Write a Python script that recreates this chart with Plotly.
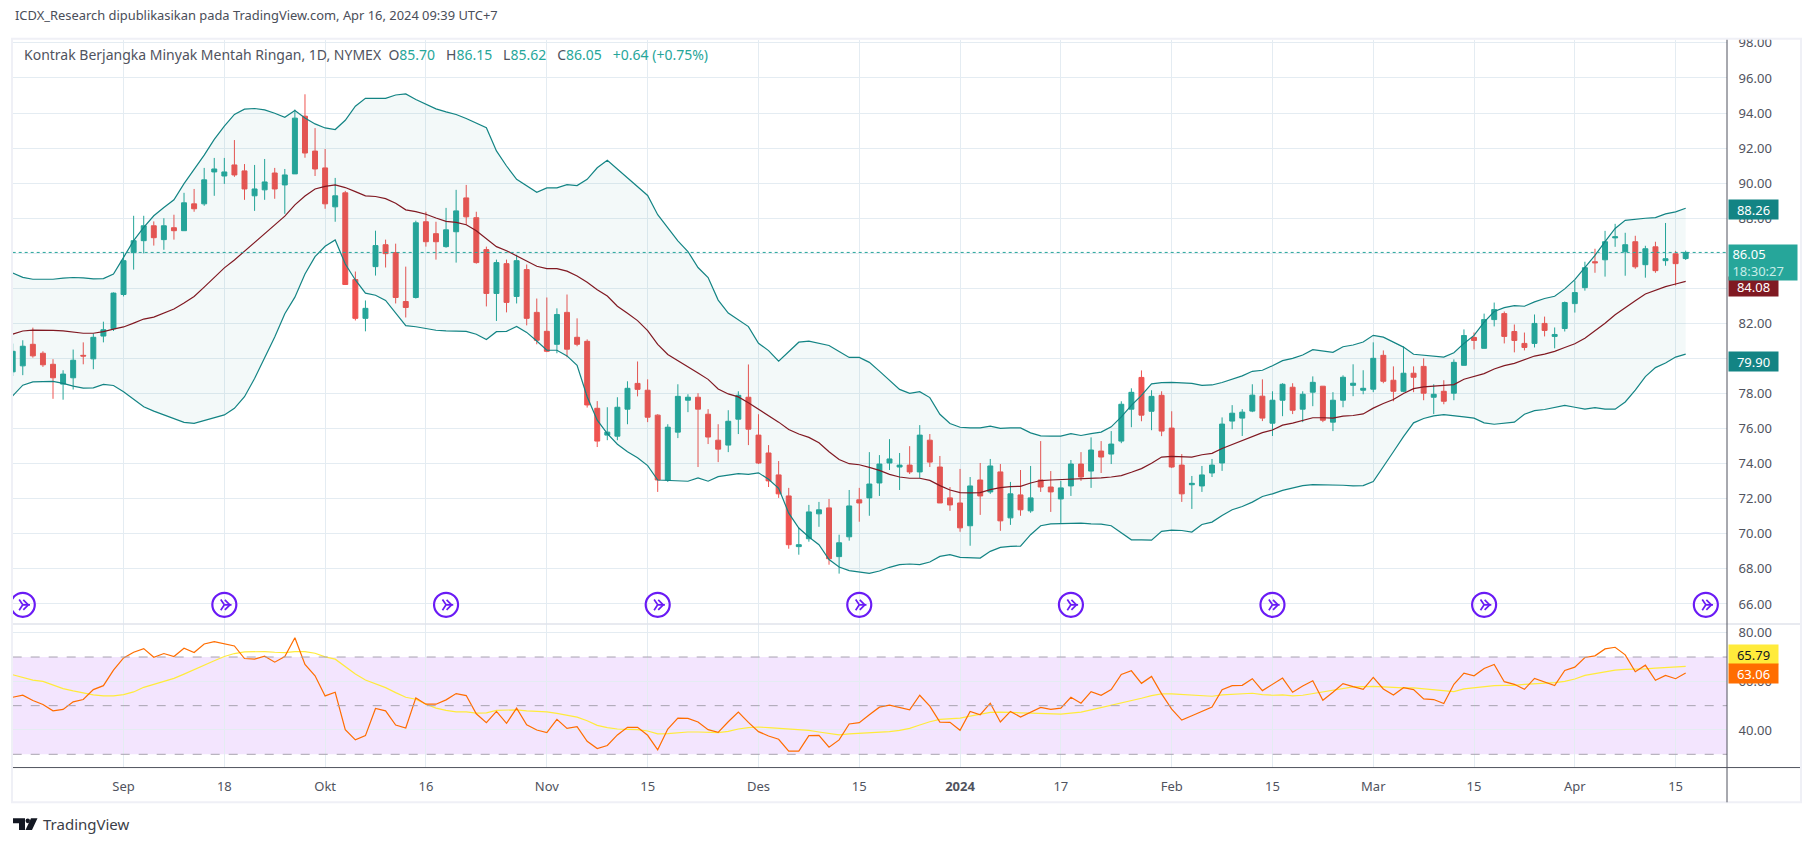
import plotly.graph_objects as go

# bar index positions of the time axis labels
tick_pos = [11, 21, 31, 41, 53, 63, 74, 84, 94, 104, 115, 125, 135, 145, 155, 165]
tick_labels = ['Sep', '18', 'Okt', '16', 'Nov', '15', 'Des', '15', '<b>2024</b>', '17',
               'Feb', '15', 'Mar', '15', 'Apr', '15']
price_ticks = [66, 68, 70, 72, 74, 76, 78, 80, 82, 84, 86, 88, 90, 92, 94, 96, 98]
rsi_ticks = [40, 60, 80]
idea_bars = [1, 21, 43, 64, 84, 105, 125, 146, 168]
idea_level = [65.95] * 9

opens = [
    79.24, 79.58, 80.81, 80.30, 79.67, 78.54, 78.90, 80.18, 79.98, 81.28,
    81.70, 83.65, 86.04, 86.72, 87.57, 86.78, 87.46, 87.29, 88.82, 88.82,
    90.64, 90.41, 91.04, 90.70, 89.28, 89.62, 90.58, 89.90, 90.53, 93.82,
    91.83, 90.87, 88.65, 89.45, 84.50, 82.29, 85.24, 86.49, 86.04, 83.25,
    83.48, 87.80, 87.12, 86.38, 87.23, 89.16, 88.03, 86.21, 83.71, 85.41,
    83.54, 85.07, 82.63, 81.55, 80.81, 82.63, 81.21, 80.98, 77.16, 75.63,
    75.57, 77.11, 78.58, 78.19, 76.77, 73.07, 75.80, 77.62, 77.79, 76.82,
    75.34, 75.06, 76.54, 77.79, 75.63, 74.61, 73.36, 72.16, 69.27, 69.72,
    71.14, 71.48, 68.70, 69.83, 71.94, 72.05, 72.90, 74.04, 73.81, 73.92,
    73.53, 75.34, 73.81, 72.05, 71.76, 70.46, 73.07, 72.39, 73.53, 70.91,
    72.22, 71.31, 73.07, 72.67, 71.99, 72.73, 73.98, 73.58, 74.72, 74.55,
    75.29, 77.11, 78.92, 76.99, 77.90, 76.03, 73.92, 72.80, 72.73, 73.47,
    74.04, 76.43, 76.60, 77.00, 77.85, 76.31, 77.62, 78.36, 77.11, 78.08,
    78.42, 76.37, 77.62, 78.47, 78.19, 78.25, 80.18, 78.76, 78.13, 79.16,
    79.55, 77.79, 78.13, 78.02, 79.61, 81.20, 80.58, 82.22, 82.56, 81.54,
    80.86, 80.86, 82.00, 81.26, 81.71, 83.13, 84.04, 85.52, 85.63, 86.88,
    86.09, 86.66, 85.35, 86.37, 85.58, 85.97, 85.70,
]
highs = [
    80.85, 81.04, 81.76, 80.41, 79.96, 79.33, 80.51, 80.92, 81.42, 82.10,
    83.77, 86.06, 88.14, 88.14, 87.82, 88.00, 88.20, 89.45, 89.67, 90.87,
    91.44, 91.44, 92.46, 91.09, 91.04, 91.38, 90.87, 90.81, 94.20, 95.07,
    93.14, 91.95, 90.30, 89.56, 84.96, 83.31, 87.29, 86.78, 86.55, 85.24,
    87.86, 88.37, 87.80, 88.59, 89.62, 89.90, 88.37, 86.38, 85.64, 85.64,
    85.92, 85.36, 83.42, 83.48, 82.86, 83.65, 82.29, 81.09, 77.57, 77.22,
    77.79, 78.70, 79.83, 78.81, 76.82, 76.25, 78.53, 77.96, 78.02, 77.11,
    76.25, 77.05, 78.13, 79.66, 76.82, 75.06, 74.15, 72.62, 70.34, 71.65,
    71.82, 71.99, 69.95, 72.50, 72.62, 74.66, 74.49, 75.40, 74.61, 75.00,
    76.20, 75.69, 74.44, 72.67, 73.70, 73.24, 74.04, 74.27, 73.98, 72.96,
    73.64, 73.87, 75.29, 73.58, 73.02, 74.21, 74.66, 75.50, 75.29, 75.86,
    77.56, 78.30, 79.32, 78.19, 78.13, 76.99, 74.55, 73.30, 73.87, 74.27,
    76.64, 77.34, 77.11, 78.53, 78.81, 78.13, 78.59, 78.59, 78.13, 78.98,
    78.42, 78.08, 79.04, 79.67, 79.33, 80.92, 80.46, 79.55, 80.69, 79.55,
    80.01, 78.53, 78.76, 79.95, 81.66, 81.48, 82.56, 83.19, 82.68, 81.94,
    81.48, 82.51, 82.39, 81.77, 83.25, 84.44, 85.52, 86.26, 87.28, 87.68,
    87.17, 87.00, 86.43, 86.66, 87.73, 86.14, 86.15,
]
lows = [
    79.00, 79.05, 80.05, 79.52, 77.70, 77.65, 78.23, 79.67, 79.39, 80.92,
    81.57, 83.54, 85.07, 86.00, 86.44, 86.20, 86.78, 87.29, 88.37, 88.71,
    89.28, 89.96, 90.36, 89.05, 88.42, 89.05, 89.11, 88.25, 90.53, 91.45,
    90.41, 88.54, 87.80, 84.22, 82.17, 81.55, 84.73, 85.19, 83.14, 82.34,
    83.42, 86.38, 85.64, 86.32, 85.47, 87.63, 85.41, 82.97, 82.14, 82.63,
    83.14, 81.89, 80.81, 80.36, 80.30, 80.07, 80.70, 77.20, 74.95, 75.34,
    75.34, 76.25, 77.84, 76.37, 72.39, 72.96, 75.46, 76.94, 73.81, 75.12,
    74.09, 74.66, 75.69, 75.06, 73.98, 72.67, 72.05, 69.15, 68.81, 69.55,
    70.40, 68.24, 67.73, 69.61, 70.69, 71.03, 72.16, 73.64, 72.50, 73.41,
    73.19, 73.81, 71.76, 71.31, 70.12, 69.32, 71.08, 72.28, 70.17, 70.51,
    71.03, 71.20, 72.39, 71.25, 70.57, 72.16, 73.02, 72.62, 73.47, 73.98,
    75.17, 76.08, 76.42, 75.91, 75.57, 73.75, 71.82, 71.42, 72.39, 73.24,
    73.59, 75.97, 75.58, 76.94, 76.43, 75.58, 76.71, 76.83, 76.37, 77.28,
    76.37, 75.86, 77.22, 77.85, 77.96, 78.08, 78.59, 77.56, 78.08, 78.08,
    77.62, 76.83, 77.39, 77.62, 79.61, 80.52, 80.58, 81.83, 80.86, 80.35,
    80.46, 80.63, 81.26, 80.58, 81.54, 82.62, 83.87, 84.89, 84.67, 86.37,
    84.72, 85.12, 84.61, 84.89, 85.29, 84.16, 85.62,
]
closes = [
    80.41, 80.70, 80.15, 79.64, 78.90, 79.11, 79.90, 80.14, 81.21, 81.64,
    83.73, 85.58, 86.72, 87.57, 86.89, 87.57, 87.29, 88.88, 88.54, 90.19,
    90.81, 90.64, 90.47, 89.67, 89.67, 90.07, 89.67, 90.47, 93.71, 91.72,
    90.81, 88.82, 89.28, 84.22, 82.29, 82.86, 86.44, 85.98, 83.48, 82.91,
    87.74, 86.66, 86.66, 87.34, 88.42, 88.08, 85.47, 83.71, 85.47, 83.20,
    85.58, 82.29, 81.04, 80.41, 82.51, 80.53, 80.81, 77.35, 75.29, 75.80,
    77.22, 78.30, 78.24, 76.65, 73.07, 76.08, 77.84, 77.79, 77.11, 75.52,
    74.83, 76.42, 77.90, 75.97, 74.04, 73.02, 72.28, 69.38, 69.38, 71.25,
    71.37, 68.58, 69.49, 71.59, 71.76, 72.84, 73.98, 74.27, 73.92, 73.53,
    75.63, 74.09, 71.76, 71.65, 70.34, 72.73, 72.16, 73.87, 70.74, 72.28,
    71.37, 72.05, 72.67, 72.39, 72.62, 73.98, 73.24, 74.78, 74.38, 75.12,
    77.39, 78.07, 76.77, 77.84, 75.86, 73.81, 72.28, 72.88, 73.36, 73.92,
    76.26, 76.88, 76.94, 77.91, 76.60, 77.62, 78.53, 77.05, 77.96, 78.64,
    76.48, 77.62, 78.93, 78.59, 78.30, 80.01, 78.70, 78.13, 79.16, 78.93,
    78.02, 77.96, 77.56, 79.78, 81.31, 81.03, 82.22, 82.79, 81.26, 81.03,
    80.63, 82.00, 81.60, 81.37, 83.19, 83.76, 85.18, 85.46, 86.66, 86.94,
    86.49, 85.23, 86.26, 85.01, 85.69, 85.41, 86.05,
]

bb_upper = [
    84.88, 84.63, 84.52, 84.52, 84.52, 84.58, 84.62, 84.60, 84.54, 84.56,
    84.82, 85.77, 86.72, 87.48, 88.14, 88.61, 89.05, 89.97, 90.79, 91.60,
    92.50, 93.26, 93.92, 94.22, 94.26, 94.18, 93.99, 93.76, 94.14, 93.72,
    93.38, 93.15, 93.06, 93.59, 94.39, 94.84, 94.84, 94.84, 95.03, 95.09,
    94.77, 94.49, 94.24, 94.07, 93.92, 93.69, 93.44, 93.16, 91.84, 90.98,
    90.22, 89.84, 89.48, 89.73, 89.73, 89.92, 89.86, 90.22, 90.88, 91.30,
    90.80, 90.31, 89.80, 89.30, 88.20, 87.47, 86.71, 86.10, 85.19, 84.62,
    83.33, 82.59, 82.21, 81.82, 80.87, 80.45, 79.85, 80.40, 80.93, 80.99,
    80.87, 80.74, 80.40, 80.06, 80.06, 79.78, 79.28, 78.75, 78.24, 78.01,
    78.11, 77.77, 76.82, 76.29, 76.08, 76.04, 76.04, 76.14, 76.02, 76.04,
    76.04, 75.76, 75.59, 75.57, 75.57, 75.71, 75.61, 75.72, 75.80, 76.10,
    76.67, 77.33, 77.90, 78.55, 78.62, 78.64, 78.62, 78.58, 78.47, 78.49,
    78.63, 78.82, 79.01, 79.27, 79.33, 79.59, 79.88, 80.01, 80.20, 80.50,
    80.44, 80.35, 80.67, 80.77, 80.94, 81.32, 81.22, 80.95, 80.65, 80.24,
    80.18, 80.14, 80.08, 80.33, 80.86, 81.32, 82.07, 82.68, 82.90, 83.02,
    82.98, 83.23, 83.42, 83.55, 83.97, 84.50, 85.16, 85.88, 86.66, 87.42,
    87.88, 87.96, 88.00, 88.04, 88.25, 88.36, 88.57,
]
bb_mid = [
    81.39, 81.57, 81.62, 81.62, 81.60, 81.57, 81.51, 81.44, 81.44, 81.53,
    81.68, 81.80, 82.02, 82.25, 82.36, 82.59, 82.82, 83.16, 83.54, 84.07,
    84.64, 85.17, 85.62, 86.11, 86.62, 87.14, 87.63, 88.12, 88.76, 89.27,
    89.67, 89.82, 89.90, 89.75, 89.52, 89.28, 89.24, 89.12, 88.86, 88.48,
    88.38, 88.23, 88.01, 87.82, 87.76, 87.63, 87.29, 86.81, 86.38, 86.15,
    85.86, 85.58, 85.26, 85.13, 85.13, 84.98, 84.71, 84.35, 83.92, 83.56,
    82.98, 82.58, 82.16, 81.59, 80.80, 80.23, 79.89, 79.55, 79.17, 78.81,
    78.26, 77.98, 77.81, 77.48, 77.11, 76.76, 76.37, 75.95, 75.69, 75.50,
    75.19, 74.68, 74.24, 74.00, 73.94, 73.79, 73.62, 73.39, 73.24, 73.17,
    73.17, 73.05, 72.75, 72.50, 72.35, 72.33, 72.35, 72.52, 72.64, 72.69,
    72.71, 72.90, 73.04, 73.07, 73.09, 73.13, 73.15, 73.17, 73.19, 73.24,
    73.32, 73.51, 73.72, 74.02, 74.38, 74.42, 74.38, 74.38, 74.51, 74.59,
    74.87, 75.10, 75.31, 75.58, 75.77, 75.92, 76.20, 76.31, 76.45, 76.62,
    76.62, 76.60, 76.71, 76.75, 76.84, 77.17, 77.43, 77.66, 78.00, 78.28,
    78.38, 78.42, 78.45, 78.51, 78.82, 78.97, 79.14, 79.40, 79.59, 79.72,
    79.93, 80.14, 80.25, 80.41, 80.63, 80.84, 81.16, 81.56, 82.01, 82.49,
    82.92, 83.30, 83.68, 83.91, 84.10, 84.25, 84.40,
]
bb_lower = [
    77.87, 78.48, 78.67, 78.67, 78.69, 78.58, 78.42, 78.31, 78.33, 78.52,
    78.46, 78.10, 77.68, 77.25, 77.00, 76.78, 76.59, 76.36, 76.30, 76.45,
    76.59, 76.78, 77.16, 77.82, 78.86, 80.00, 81.23, 82.55, 83.50, 84.82,
    85.81, 86.40, 86.76, 85.39, 84.48, 83.73, 83.61, 83.31, 82.59, 81.87,
    81.81, 81.72, 81.61, 81.57, 81.57, 81.55, 81.38, 81.08, 81.53, 81.55,
    81.83, 81.49, 81.00, 80.47, 80.47, 80.15, 79.61, 77.82, 76.48, 75.72,
    75.11, 74.68, 74.34, 73.89, 73.07, 73.06, 73.04, 73.00, 73.19, 73.00,
    73.26, 73.33, 73.43, 73.39, 73.48, 73.11, 72.60, 71.18, 70.33, 69.82,
    69.38, 68.53, 68.11, 67.90, 67.81, 67.75, 67.88, 68.09, 68.24, 68.28,
    68.24, 68.39, 68.71, 68.81, 68.66, 68.62, 68.62, 69.00, 69.23, 69.28,
    69.30, 69.95, 70.46, 70.57, 70.59, 70.61, 70.61, 70.57, 70.55, 70.46,
    70.04, 69.66, 69.66, 69.64, 70.14, 70.21, 70.19, 70.10, 70.53, 70.67,
    71.05, 71.37, 71.56, 71.81, 72.13, 72.28, 72.48, 72.60, 72.75, 72.81,
    72.81, 72.81, 72.77, 72.73, 72.75, 72.98, 73.80, 74.68, 75.54, 76.33,
    76.58, 76.73, 76.80, 76.75, 76.67, 76.60, 76.33, 76.25, 76.31, 76.37,
    76.82, 77.03, 77.09, 77.22, 77.33, 77.22, 77.11, 77.20, 77.11, 77.11,
    77.52, 78.19, 78.97, 79.48, 79.74, 80.08, 80.25,
]

rsi = [
    53.47, 54.29, 52.11, 50.48, 47.89, 48.44, 51.56, 52.52, 56.60, 58.23,
    64.63, 69.66, 71.97, 73.47, 69.93, 71.43, 70.20, 73.61, 71.84, 75.37,
    76.33, 75.37, 74.56, 69.39, 69.12, 70.34, 67.89, 70.20, 77.96, 66.94,
    62.31, 54.01, 55.51, 40.14, 35.92, 37.69, 48.84, 47.89, 42.04, 40.82,
    53.20, 50.61, 50.61, 52.38, 54.97, 54.15, 46.67, 42.99, 47.62, 42.72,
    48.98, 42.18, 40.00, 38.91, 44.35, 40.68, 41.36, 35.37, 32.38, 33.61,
    37.96, 41.09, 41.09, 37.82, 31.84, 40.41, 44.90, 44.76, 43.27, 40.14,
    39.05, 43.40, 47.35, 43.13, 39.32, 37.55, 36.19, 31.29, 31.29, 37.69,
    37.82, 32.93, 35.92, 42.45, 42.99, 46.26, 49.39, 50.20, 49.25, 48.30,
    54.29, 49.80, 43.27, 43.13, 39.86, 47.62, 46.26, 51.02, 43.27, 47.62,
    45.31, 47.21, 49.25, 48.44, 48.98, 53.47, 51.02, 55.78, 54.29, 56.60,
    62.86, 64.35, 59.18, 62.04, 54.83, 48.57, 44.08, 45.85, 47.62, 49.39,
    56.60, 58.23, 58.37, 61.09, 56.19, 58.91, 61.36, 55.51, 58.10, 60.27,
    52.24, 55.51, 59.05, 57.82, 56.73, 61.63, 56.87, 54.42, 57.41, 56.60,
    52.79, 52.52, 50.88, 58.78, 63.40, 62.31, 65.31, 66.94, 59.86, 58.78,
    56.73, 61.22, 59.73, 58.23, 64.49, 65.85, 69.80, 70.48, 73.33, 74.01,
    70.88, 63.95, 66.67, 60.41, 62.45, 61.09, 63.40,
]
rsi_ma = [
    62.72, 61.63, 60.54, 60.00, 58.37, 57.01, 56.05, 55.10, 54.42, 54.01,
    54.01, 54.56, 55.65, 57.55, 58.78, 60.00, 61.22, 62.99, 64.90, 66.53,
    68.44, 70.20, 71.43, 72.11, 72.24, 72.24, 71.97, 71.84, 72.24, 72.24,
    71.56, 70.07, 69.12, 66.12, 62.99, 60.54, 59.05, 57.41, 55.37, 53.47,
    52.65, 50.61, 48.98, 48.03, 47.48, 47.48, 46.94, 47.07, 48.03, 48.30,
    48.30, 47.89, 47.76, 47.48, 46.80, 46.12, 45.31, 43.81, 41.90, 40.95,
    40.41, 40.27, 40.14, 39.59, 38.37, 38.50, 38.91, 39.18, 39.18, 39.05,
    38.91, 39.46, 40.41, 40.95, 41.22, 40.95, 40.68, 40.14, 40.14, 39.86,
    39.18, 38.50, 37.96, 38.37, 38.64, 38.78, 38.91, 39.32, 39.86, 40.68,
    42.04, 43.40, 44.35, 44.76, 44.90, 45.71, 46.53, 47.21, 47.35, 47.35,
    47.07, 46.94, 46.80, 46.67, 46.53, 46.94, 47.35, 48.30, 49.25, 49.93,
    51.02, 52.11, 53.06, 54.15, 54.83, 54.83, 54.56, 54.29, 54.15, 53.88,
    54.42, 54.56, 54.83, 55.10, 54.56, 54.29, 54.42, 54.01, 54.29, 54.97,
    55.65, 56.19, 57.01, 57.69, 57.82, 57.96, 57.69, 57.41, 57.28, 57.28,
    56.87, 56.60, 56.05, 55.78, 56.87, 57.41, 57.96, 58.23, 58.37, 58.37,
    58.78, 58.91, 59.05, 59.46, 60.00, 60.95, 62.45, 63.13, 63.81, 64.63,
    64.90, 64.90, 65.17, 65.44, 65.71, 65.71, 66.12,
]

bars = list(range(len(closes)))

W, H = 1815, 846
def px(x):
    return x / W
def py(y):
    return 1 - y / H

GRID = '#e4ecf2'
AXIS = '#50535e'
TEXT = '#50535e'
FONT = 'Noto Sans'
TEAL = '#138484'
GREEN = '#26a69a'
RED = '#ef5350'
PURPLE = '#6a1bf5'

fig = go.Figure()

fig.add_trace(go.Scatter(x=bars, y=bb_upper, mode='lines', line=dict(color=TEAL, width=1.2),
                         xaxis='x', yaxis='y', hoverinfo='skip'))
fig.add_trace(go.Scatter(x=bars, y=bb_lower, mode='lines', line=dict(color=TEAL, width=1.2),
                         fill='tonexty', fillcolor='rgba(19,132,132,0.05)',
                         xaxis='x', yaxis='y', hoverinfo='skip'))
fig.add_trace(go.Scatter(x=bars, y=bb_mid, mode='lines', line=dict(color='#801922', width=1.2),
                         xaxis='x', yaxis='y', hoverinfo='skip'))
fig.add_trace(go.Candlestick(x=bars, open=opens, high=highs, low=lows, close=closes,
                             increasing=dict(line=dict(color=GREEN, width=1), fillcolor=GREEN),
                             decreasing=dict(line=dict(color=RED, width=1), fillcolor=RED),
                             whiskerwidth=0, xaxis='x', yaxis='y'))
# idea icons: ring, forked tail, then the two strokes of the arrow head
fig.add_trace(go.Scatter(x=idea_bars, y=idea_level, mode='markers',
                         marker=dict(symbol='circle-open', size=24, color=PURPLE,
                                     line=dict(width=2.2, color=PURPLE)),
                         xaxis='x', yaxis='y', hoverinfo='skip'))
fig.add_trace(go.Scatter(x=idea_bars, y=idea_level, mode='markers',
                         marker=dict(symbol='y-right', size=9, color=PURPLE,
                                     line=dict(width=1.7, color=PURPLE)),
                         xaxis='x', yaxis='y', hoverinfo='skip'))
fig.add_trace(go.Scatter(x=[b + 0.3 for b in idea_bars], y=[v + 0.14 for v in idea_level], mode='markers',
                         marker=dict(symbol='line-nw', size=5, color=PURPLE,
                                     line=dict(width=1.7, color=PURPLE)),
                         xaxis='x', yaxis='y', hoverinfo='skip'))
fig.add_trace(go.Scatter(x=[b + 0.3 for b in idea_bars], y=[v - 0.14 for v in idea_level], mode='markers',
                         marker=dict(symbol='line-ne', size=5, color=PURPLE,
                                     line=dict(width=1.7, color=PURPLE)),
                         xaxis='x', yaxis='y', hoverinfo='skip'))

fig.add_trace(go.Scatter(x=bars, y=rsi_ma, mode='lines', line=dict(color='#ffeb3b', width=1.2),
                         xaxis='x2', yaxis='y2', hoverinfo='skip'))
fig.add_trace(go.Scatter(x=bars, y=rsi, mode='lines', line=dict(color='#ff6d00', width=1.2),
                         xaxis='x2', yaxis='y2', hoverinfo='skip'))

x_range = [0, 170.1]
x_common = dict(range=x_range, tickmode='array', tickvals=tick_pos, ticktext=tick_labels,
                showgrid=True, gridcolor=GRID, gridwidth=1, zeroline=False)

layout_shapes = [
    # dotted last price line
    dict(type='line', xref='x', yref='y', x0=x_range[0], x1=x_range[1], y0=closes[-1], y1=closes[-1],
         line=dict(color=GREEN, width=1, dash='dot'), layer='above'),
    # rsi band
    dict(type='rect', xref='x2', yref='y2', x0=x_range[0], x1=x_range[1], y0=30, y1=70,
         fillcolor='rgba(156,39,250,0.12)', line=dict(width=0), layer='below'),
]
for lvl in [70, 50, 30]:
    layout_shapes.append(dict(type='line', xref='x2', yref='y2', x0=x_range[0], x1=x_range[1],
                              y0=lvl, y1=lvl, line=dict(color='#a8a3b0', width=1, dash='dash'),
                              layer='above'))
# frame, pane separator, axis lines
frame = '#eff0f6'
layout_shapes += [
    dict(type='rect', xref='paper', yref='paper', x0=px(12), x1=px(1801), y0=py(802), y1=py(33),
         line=dict(color=frame, width=2), layer='above'),
    dict(type='line', xref='paper', yref='paper', x0=px(13), x1=px(1800), y0=py(622.5), y1=py(622.5),
         line=dict(color='#e0e3eb', width=1.5), layer='above'),
    dict(type='line', xref='paper', yref='paper', x0=px(13), x1=px(1800), y0=py(767), y1=py(767),
         line=dict(color=AXIS, width=1), layer='above'),
    dict(type='line', xref='paper', yref='paper', x0=px(1727), x1=px(1727), y0=py(802), y1=py(34),
         line=dict(color=AXIS, width=1), layer='above'),
    # TradingView logo
    dict(type='path', xref='paper', yref='paper', fillcolor='#131722', line=dict(width=0), layer='above',
         path=f'M {px(13)} {py(818)} L {px(25)} {py(818)} L {px(25)} {py(830)} L {px(19)} {py(830)} '
              f'L {px(19)} {py(823)} L {px(13)} {py(823)} Z'),
    dict(type='circle', xref='paper', yref='paper', fillcolor='#131722', line=dict(width=0), layer='above',
         x0=px(25.5), x1=px(30), y0=py(823), y1=py(818.3)),
    dict(type='path', xref='paper', yref='paper', fillcolor='#131722', line=dict(width=0), layer='above',
         path=f'M {px(31)} {py(818)} L {px(37.5)} {py(818)} L {px(32)} {py(830)} L {px(25.5)} {py(830)} Z'),
]


def axis_label(value, text, bg, fg, yref, width=49, height=19, align='center'):
    return dict(xref='paper', yref=yref, x=px(1727.5), y=value, xanchor='left', yanchor='middle',
                text=text, showarrow=False, bgcolor=bg, width=width, height=height, align=align,
                font=dict(family=FONT, size=13, color=fg), borderpad=0)


annotations = [
    dict(xref='paper', yref='paper', x=px(12.5), y=py(9.5), xanchor='left', yanchor='middle', showarrow=False,
         text='ICDX_Research dipublikasikan pada TradingView.com, Apr 16, 2024 09:39 UTC+7',
         font=dict(family=FONT, size=12.9, color='#4a4e59')),
    dict(xref='paper', yref='paper', x=px(22), y=py(48.7), xanchor='left', yanchor='middle', showarrow=False,
         text=f'Kontrak Berjangka Minyak Mentah Ringan, 1D, NYMEX&nbsp;&nbsp;'
              f'O<span style="color:{GREEN}">85.70</span>&nbsp;&nbsp;&nbsp;'
              f'H<span style="color:{GREEN}">86.15</span>&nbsp;&nbsp;&nbsp;'
              f'L<span style="color:{GREEN}">85.62</span>&nbsp;&nbsp;&nbsp;'
              f'C<span style="color:{GREEN}">86.05</span>&nbsp;&nbsp;&nbsp;'
              f'<span style="color:{GREEN}">+0.64 (+0.75%)</span>',
         font=dict(family=FONT, size=14, color=TEXT)),
    dict(xref='paper', yref='paper', x=px(41), y=py(824), xanchor='left', yanchor='middle', showarrow=False,
         text='TradingView', font=dict(family=FONT, size=15, color='#3b3e47')),
    axis_label(88.47, '88.26', '#138484', '#ffffff', 'y'),
    axis_label(84.08, '84.08', '#801922', '#ffffff', 'y'),
    axis_label(79.83, '79.90', '#138484', '#ffffff', 'y'),
    axis_label(85.5, '&nbsp;86.05<br>&nbsp;<span style="color:#c8ece8">18:30:27</span>', GREEN, '#ffffff', 'y',
               width=68, height=35, align='left'),
    axis_label(70.9, '65.79', '#ffeb3b', '#131722', 'y2'),
    axis_label(63.2, '63.06', '#ff6d00', '#ffffff', 'y2'),
]

fig.update_layout(
    width=W, height=H,
    margin=dict(l=0, r=0, t=0, b=0),
    paper_bgcolor='white', plot_bgcolor='white',
    showlegend=False,
    boxgap=0.3,
    font=dict(family=FONT, size=13, color=TEXT),
    xaxis=dict(domain=[px(12.7), px(1727)], anchor='y', showticklabels=False, ticks='',
               rangeslider=dict(visible=False), **x_common),
    xaxis2=dict(domain=[px(12.7), px(1727)], anchor='y2', matches='x', showticklabels=True,
                ticks='outside', ticklen=7, tickcolor='rgba(0,0,0,0)',
                tickfont=dict(family=FONT, size=13, color=TEXT), **x_common),
    yaxis=dict(domain=[py(622), py(34)], anchor='x', side='right', range=[64.88, 98.18],
               tickmode='array', tickvals=price_ticks, tickformat='.2f',
               ticks='outside', ticklen=8, tickcolor='rgba(0,0,0,0)',
               tickfont=dict(family=FONT, size=13, color=TEXT),
               showgrid=True, gridcolor=GRID, gridwidth=1, zeroline=False),
    yaxis2=dict(domain=[py(767), py(622)], anchor='x2', side='right', range=[24.55, 83.75],
                tickmode='array', tickvals=rsi_ticks, tickformat='.2f',
                ticks='outside', ticklen=8, tickcolor='rgba(0,0,0,0)',
                tickfont=dict(family=FONT, size=13, color=TEXT),
                showgrid=True, gridcolor=GRID, gridwidth=1, zeroline=False),
    shapes=layout_shapes,
    annotations=annotations,
)

fig.write_html("out.html", config=dict(displayModeBar=False),
               post_script="document.body.style.margin='0';")
